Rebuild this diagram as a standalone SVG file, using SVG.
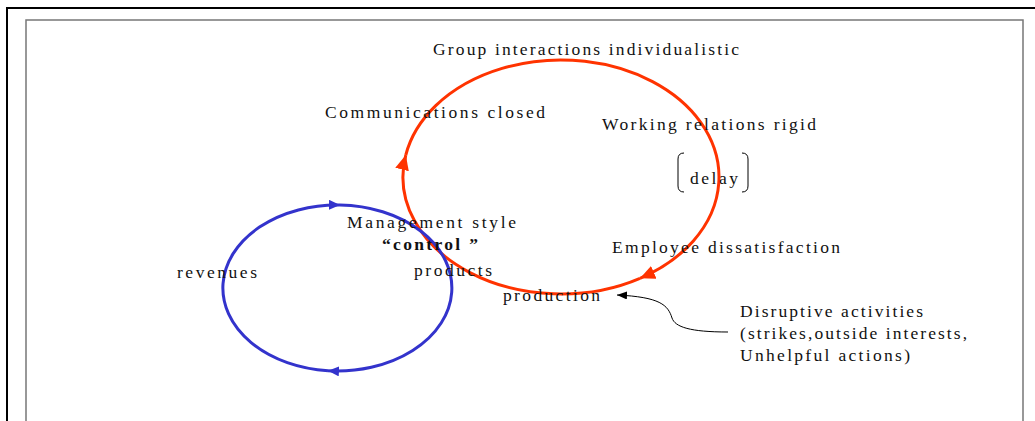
<svg xmlns="http://www.w3.org/2000/svg" width="1035" height="421" viewBox="0 0 1035 421">
<style>
.t{font-family:"Liberation Serif","Times New Roman",serif;font-size:17.5px;fill:#111;}
.b{font-weight:bold;}
.red{fill:none;stroke:#FF3300;stroke-width:3;}
.blue{fill:none;stroke:#3333CC;stroke-width:3;}
.blk{fill:none;stroke:#000;stroke-width:1;}
</style>
<defs>
<marker id="ar" markerUnits="userSpaceOnUse" markerWidth="18" markerHeight="16" refX="15" refY="7" orient="auto"><path d="M0,0 L15,7 L0,14 Z" fill="#FF3300"/></marker>
<marker id="ab" markerUnits="userSpaceOnUse" markerWidth="14" markerHeight="12" refX="11" refY="5" orient="auto"><path d="M0,0 L11,5 L0,10 Z" fill="#3333CC"/></marker>
<marker id="ak" markerUnits="userSpaceOnUse" markerWidth="12" markerHeight="10" refX="10" refY="4" orient="auto"><path d="M0,0 L10,4 L0,8 Z" fill="#000"/></marker>
</defs>
<rect width="1035" height="421" fill="#fff"/>
<path d="M7,430 L7,8 L1040,8" fill="none" stroke="#000" stroke-width="2"/>
<path d="M26,430 L26,20 L1023,20 L1023,430" fill="none" stroke="#777" stroke-width="1.5"/>
<g id="connectors">
<path class="red" d="M640,278.3 A158,117 0 0 1 405.8,155" marker-end="url(#ar)"/>
<path class="red" d="M405.8,155 A158,117 0 1 1 640,278.3" marker-end="url(#ar)"/>
<path class="blue" d="M328,370.7 A114.5,83 0 0 1 340,205" marker-end="url(#ab)"/>
<path class="blue" d="M340,205 A114.5,83 0 1 1 328,370.7" marker-end="url(#ab)"/>
<path class="blk" d="M728,332 C690,332 675,327 672,318 C668,305 660,297 617,295" marker-end="url(#ak)"/>
</g>
<g id="group-interactions"><text class="t" x="433" y="55" textLength="306" lengthAdjust="spacing">Group interactions individualistic</text></g>
<g id="communications"><text class="t" x="325" y="118" textLength="220" lengthAdjust="spacing">Communications closed</text></g>
<g id="working-relations"><text class="t" x="602" y="130" textLength="214" lengthAdjust="spacing">Working relations rigid</text></g>
<g id="delay">
<path class="blk" d="M684,153 Q678,153 678,159 L678,186 Q678,192 684,192"/>
<path class="blk" d="M742,153 Q748,153 748,159 L748,186 Q748,192 742,192"/>
<text class="t" x="690" y="184" textLength="48" lengthAdjust="spacing">delay</text>
</g>
<g id="management">
<text class="t" x="347" y="228" textLength="169" lengthAdjust="spacing">Management style</text>
<text class="t b" x="382" y="250" textLength="96" lengthAdjust="spacing">“control ”</text>
</g>
<g id="products"><text class="t" x="414" y="276" textLength="78" lengthAdjust="spacing">products</text></g>
<g id="revenues"><text class="t" x="177" y="278" textLength="80" lengthAdjust="spacing">revenues</text></g>
<g id="employee"><text class="t" x="612" y="253" textLength="228" lengthAdjust="spacing">Employee dissatisfaction</text></g>
<g id="production"><text class="t" x="503" y="301" textLength="97" lengthAdjust="spacing">production</text></g>
<g id="disruptive">
<text class="t" x="740" y="317" textLength="183" lengthAdjust="spacing">Disruptive activities</text>
<text class="t" x="740" y="339" textLength="227" lengthAdjust="spacing">(strikes,outside interests,</text>
<text class="t" x="740" y="361" textLength="170" lengthAdjust="spacing">Unhelpful actions)</text>
</g>
</svg>
